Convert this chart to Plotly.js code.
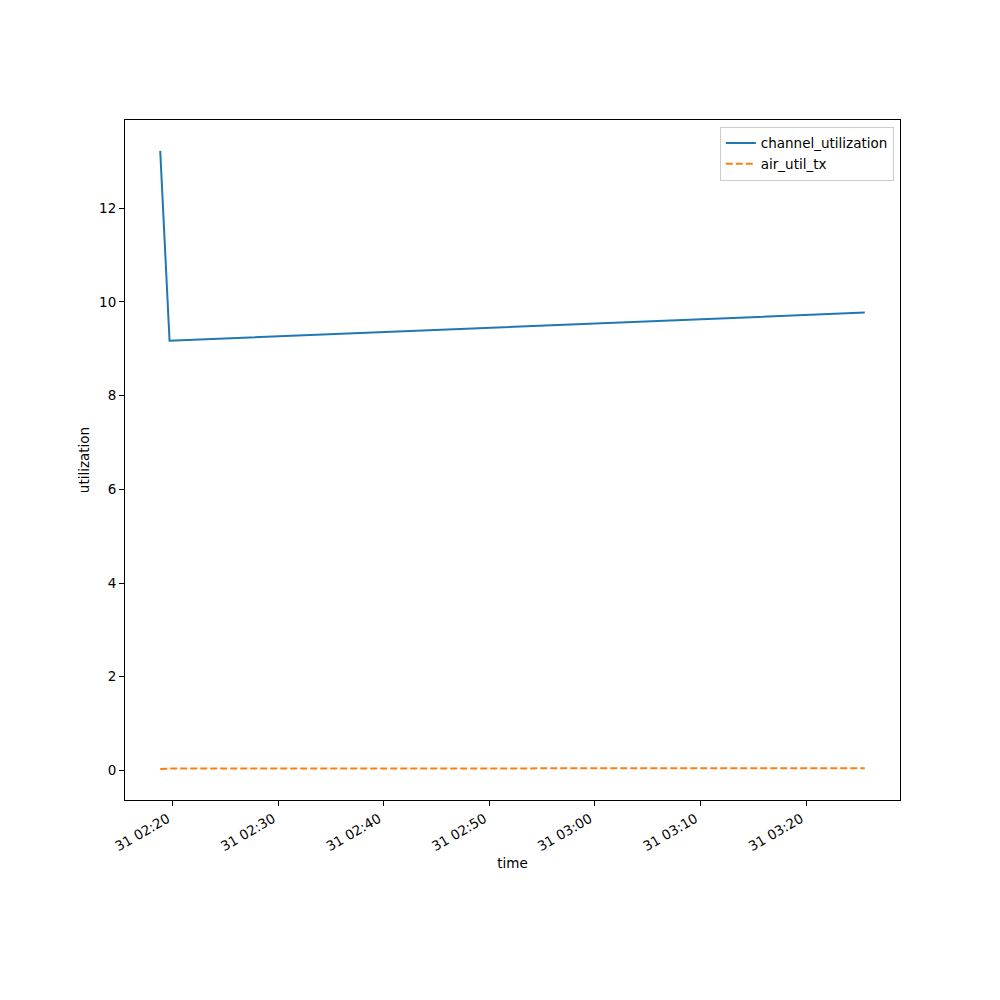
<!DOCTYPE html>
<html>
<head>
<meta charset="utf-8">
<script src="https://cdn.plot.ly/plotly-3.0.1.min.js"></script>
<style>html,body{margin:0;padding:0;background:#fff;}#chart{width:1000px;height:1000px;}</style>
</head>
<body>
<div id="chart"></div>
<script>
const times = ["2024-01-31 02:18:50", "2024-01-31 02:19:43", "2024-01-31 03:25:34"];
const channelUtilization = [13.22, 9.17, 9.77];
const airUtilTx = [0.03, 0.04, 0.05];

const tms = times.map(t => new Date(t.replace(' ', 'T') + 'Z').getTime());
const tMin = Math.min(...tms), tMax = Math.max(...tms);
const pad = (tMax - tMin) * 0.05;
const fmt = ms => new Date(ms).toISOString().replace('T', ' ').replace('Z', '');
const allY = channelUtilization.concat(airUtilTx);
const yMin = Math.min(...allY), yMax = Math.max(...allY);
const yPad = (yMax - yMin) * 0.05;

const font = {family: 'DejaVu Sans, sans-serif', size: 13.5, color: '#000'};

const traces = [
  {x: times, y: channelUtilization, name: 'channel_utilization', mode: 'lines',
   line: {color: '#1f77b4', width: 2}},
  {x: times, y: airUtilTx, name: 'air_util_tx', mode: 'lines',
   line: {color: '#ff7f0e', width: 2, dash: '7px,3px'}}
];

const layout = {
  width: 1000, height: 1000,
  margin: {l: 125, r: 100, t: 120, b: 200},
  paper_bgcolor: '#fff', plot_bgcolor: '#fff',
  font: font,
  showlegend: true,
  legend: {x: 0.992, y: 0.99, xanchor: 'right', yanchor: 'top',
           bgcolor: 'rgba(255,255,255,0.8)', bordercolor: '#cccccc', borderwidth: 1,
           font: font, itemwidth: 30, tracegroupgap: 0},
  xaxis: {
    type: 'date',
    range: [fmt(tMin - pad), fmt(tMax + pad)],
    tickmode: 'linear', tick0: '2024-01-31 02:20:00', dtick: 600000,
    tickformat: '%d %H:%M', tickangle: -30,
    ticks: 'outside', ticklen: 5, tickwidth: 1, tickcolor: '#000',
    ticklabelshift: -5,
    showline: true, linecolor: '#000', linewidth: 1, mirror: true,
    showgrid: false, zeroline: false,
    title: {text: 'time', font: font, standoff: 5},
    tickfont: font
  },
  yaxis: {
    range: [yMin - yPad, yMax + yPad],
    tickmode: 'linear', tick0: 0, dtick: 2,
    ticks: 'outside', ticklen: 5, tickwidth: 1, tickcolor: '#000',
    showline: true, linecolor: '#000', linewidth: 1, mirror: true,
    showgrid: false, zeroline: false,
    title: {text: 'utilization', font: font, standoff: 6},
    tickfont: font
  }
};

Plotly.newPlot('chart', traces, layout, {displayModeBar: false, staticPlot: true});
</script>
</body>
</html>
